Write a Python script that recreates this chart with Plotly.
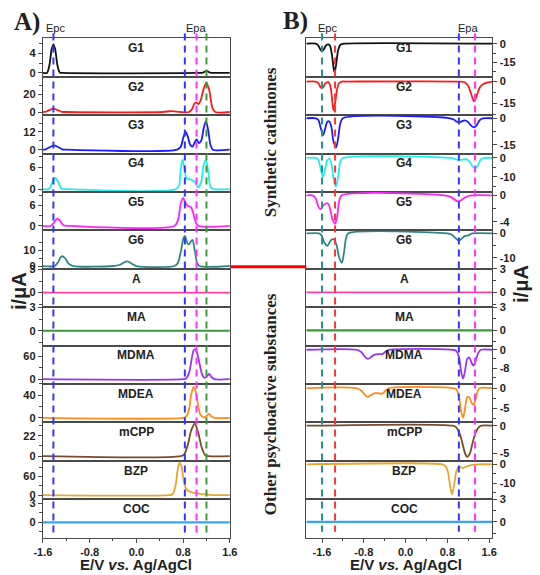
import plotly.graph_objects as go

W, H = 540, 575
NAMES = ["G1", "G2", "G3", "G4", "G5", "G6", "A", "MA", "MDMA", "MDEA", "mCPP", "BZP", "COC"]
COLORS = ["#111111", "#ff1a1a", "#1a1aff", "#22eeee", "#ff22ff", "#2f8585", "#ff3fa0",
          "#3a9a3a", "#9b33f0", "#ff8c1e", "#7a4a2a", "#e8a532", "#38a8f0"]

# ---------------- Panel A (anodic / oxidation, positive currents) ----------------
E_A_G1 = [-1.6, -1.53, -1.49, -1.45, -1.42, -1.39, -1.35, -1.31, -1.25, 1.05, 1.14, 1.2, 1.26, 1.35, 1.6]
I_A_G1 = [0, 0, 1.5, 4.8, 5.8, 4.8, 1.5, 0.1, 0, 0, 0.05, 0.4, 0.05, 0, 0]
E_A_G2 = [-1.6, -1.55, -1.48, -1.42, -1.36, -1.28, -1.2, 0.45, 0.6, 0.75, 0.9, 0.95, 0.99, 1.02, 1.06,
          1.1, 1.15, 1.2, 1.25, 1.3, 1.35, 1.6]
I_A_G2 = [0, 0.3, 2.5, 3.8, 2.5, 0.3, 0, 0, 1, 0, 0, 3, 9, 11, 9, 13, 26, 33, 24, 5, 0, 0]
E_A_G3 = [-1.6, -1.55, -1.47, -1.41, -1.35, -1.27, -1.2, 0.7, 0.76, 0.81, 0.845, 0.88, 0.92, 0.96, 1.0,
          1.03, 1.07, 1.11, 1.15, 1.19, 1.23, 1.27, 1.31, 1.6]
I_A_G3 = [0, 0.2, 2, 2.9, 2, 0.2, 0, 0, 2, 9, 12, 9, 3.5, 2, 5, 7, 4.5, 6, 14, 19.3, 13, 3, 0, 0]
E_A_G4 = [-1.6, -1.5, -1.44, -1.39, -1.34, -1.28, -1.2, 0.68, 0.73, 0.76, 0.79, 0.82, 0.86, 0.9, 0.95,
          1.0, 1.06, 1.11, 1.15, 1.19, 1.23, 1.27, 1.32, 1.6]
I_A_G4 = [0, 0, 1.8, 3.2, 2, 0.1, 0, 0, 1, 5.5, 8.2, 6, 3, 2.8, 2.5, 2, 0.5, 2, 6.5, 8, 5, 0.5, 0, 0]
E_A_G5 = [-1.6, -1.47, -1.41, -1.36, -1.31, -1.25, -1.15, 0.65, 0.71, 0.76, 0.8, 0.84, 0.88, 0.93,
          0.97, 1.02, 1.07, 1.6]
I_A_G5 = [0, 0, 1, 2.1, 1.6, 0.2, 0, 0, 1.5, 6.5, 8.2, 6.8, 5.8, 5.6, 4, 1, 0, 0]
E_A_G6 = [-1.6, -1.4, -1.34, -1.3, -1.27, -1.22, -1.16, -1.08, -0.4, -0.28, -0.2, -0.15, -0.08, 0.0,
          0.65, 0.71, 0.76, 0.8, 0.83, 0.87, 0.9, 0.93, 0.96, 1.0, 1.04, 1.08, 1.6]
I_A_G6 = [0, 0, 2.5, 5.5, 6.3, 5, 1.5, 0, 0, 0.8, 2.6, 3, 1.5, 0, 0, 2, 9, 17, 19.4, 15, 13.9, 15.5,
          16.8, 10, 2, 0, 0]
E_A_A = [-1.6, 1.6]
I_A_A = [0, 0]
E_A_MA = [-1.6, 1.6]
I_A_MA = [0, 0]
E_A_MDMA = [-1.6, 0.8, 0.85, 0.9, 0.95, 0.98, 1.01, 1.04, 1.08, 1.12, 1.16, 1.2, 1.245, 1.29, 1.34, 1.6]
I_A_MDMA = [0, 0, 2, 15, 55, 75, 78, 68, 42, 15, 4, 6, 14, 5, 0, 0]
E_A_MDEA = [-1.6, 0.8, 0.85, 0.9, 0.94, 0.98, 1.02, 1.06, 1.1, 1.15, 1.2, 1.24, 1.28, 1.33, 1.6]
I_A_MDEA = [0, 0, 2, 14, 42, 55, 45, 20, 5, 1, 3, 7.6, 3, 0, 0]
E_A_MCPP = [-1.6, 0.76, 0.82, 0.88, 0.94, 1.0, 1.06, 1.12, 1.18, 1.24, 1.6]
I_A_MCPP = [0, 0, 2, 12, 28, 35, 25, 9, 1, 0, 0]
E_A_BZP = [-1.6, 0.55, 0.62, 0.67, 0.71, 0.74, 0.77, 0.8, 0.84, 0.88, 0.95, 1.04, 1.12, 1.2, 1.3, 1.6]
I_A_BZP = [0, 0, 3, 30, 85, 105, 95, 60, 25, 14, 9, 5.6, 3.5, 1.5, 0, 0]
E_A_COC = [-1.6, 1.6]
I_A_COC = [0, 0]

YRANGE_A = [[-0.8, 7.0], [-3.7, 40], [-2.7, 23.3], [-0.8, 9.8], [-1.3, 9.9], [-1.8, 22.9],
            [-1.9, 3.1], [-1.9, 3.02], [-12.5, 87.5], [-8, 60], [-5, 36.5], [-13, 111], [-2.4, 3.65]]
YTICK_A = [[0, 4], [0, 20], [0, 12], [0, 6], [0, 6], [0, 10], [0, 3], [0, 3], [0, 60], [0, 40],
           [0, 22], [0, 60], [0, 3]]

# ---------------- Panel B (cathodic / reduction, negative currents) ----------------
E_B_G1 = [-1.9, -1.72, -1.67, -1.63, -1.6, -1.57, -1.53, -1.49, -1.45, -1.41, -1.38, -1.36, -1.33,
          -1.29, -1.24, -1.18, 1.66]
I_B_G1 = [0, 0, -1.5, -4.8, -6, -4.8, -1.8, -0.6, -1.5, -9, -19, -23, -17, -5, -0.5, 0, 0]
E_B_G2 = [-1.9, -1.72, -1.66, -1.63, -1.6, -1.57, -1.53, -1.48, -1.44, -1.41, -1.38, -1.35, -1.31,
          -1.27, -1.22, -1.15, 1.0, 1.12, 1.2, 1.26, 1.31, 1.36, 1.42, 1.5, 1.58, 1.66]
I_B_G2 = [0, 0, -1.5, -3.8, -4.5, -3.5, -1, -0.4, -3, -11, -19.6, -15, -5, -1, 0, 0,
          0, -0.3, -3, -9, -13.5, -10, -4, -1.5, -0.5, 0]
E_B_G3 = [-1.9, -1.72, -1.67, -1.62, -1.58, -1.54, -1.5, -1.46, -1.42, -1.38, -1.33, -1.29, -1.25, -1.2,
          0.85, 0.93, 0.98, 1.02, 1.07, 1.13, 1.19, 1.25, 1.31, 1.36, 1.42, 1.48, 1.66]
I_B_G3 = [0, 0, -1, -6, -9.5, -6, -2, -1.8, -5, -13, -16.5, -11, -3, 0,
          0, -0.8, -2, -2.4, -1.8, -1.2, -2, -4, -5.2, -4, -1, 0, 0]
E_B_G4 = [-1.9, -1.72, -1.67, -1.62, -1.58, -1.54, -1.5, -1.46, -1.42, -1.38, -1.335, -1.29, -1.25, -1.2,
          0.85, 0.93, 1.0, 1.06, 1.14, 1.2, 1.25, 1.29, 1.34, 1.39, 1.44, 1.5, 1.66]
I_B_G4 = [0, 0, -1, -6.5, -10, -6, -1.2, -0.5, -3, -11, -15.3, -10, -2, 0,
          0, -0.3, -1.1, -1, -0.7, -1.2, -3, -4.8, -5.6, -3.8, -0.8, 0, 0]
E_B_G5 = [-1.9, -1.78, -1.72, -1.67, -1.63, -1.58, -1.53, -1.48, -1.44, -1.4, -1.35, -1.31, -1.27, -1.22,
          0.75, 0.85, 0.93, 1.0, 1.05, 1.12, 1.2, 1.28, 1.66]
I_B_G5 = [0, 0, -0.5, -1.7, -2.1, -1.6, -1.2, -1.3, -2.2, -3.6, -4.3, -3.2, -0.8, 0,
          0, -0.2, -0.6, -0.9, -0.8, -0.4, -0.1, 0, 0]
E_B_G6 = [-1.9, -1.66, -1.61, -1.56, -1.5, -1.45, -1.41, -1.37, -1.32, -1.27, -1.22, -1.18, -1.14, -1.1,
          0.8, 0.88, 0.95, 1.02, 1.08, 1.14, 1.2, 1.28, 1.66]
I_B_G6 = [0, 0, -0.8, -3.5, -5.1, -3.5, -2.4, -2.5, -5, -10, -12.1, -8, -2, 0,
          0, -0.4, -1.8, -3, -2, -1, -0.8, 0, 0]
E_B_A = [-1.9, 1.66]
I_B_A = [0, 0]
E_B_MA = [-1.9, 1.66]
I_B_MA = [0, 0]
E_B_MDMA = [-1.9, -0.95, -0.85, -0.78, -0.72, -0.66, -0.6, -0.52, -0.45, -0.38, -0.3,
            0.9, 0.97, 1.02, 1.06, 1.1, 1.14, 1.18, 1.22, 1.26, 1.3, 1.34, 1.39, 1.44, 1.66]
I_B_MDMA = [0, 0, -1, -3, -4, -3.2, -2.2, -1.9, -1.9, -0.8, 0,
            0, -0.5, -3, -9, -12.6, -9, -4, -3.3, -5.5, -6.9, -5, -1.5, 0, 0]
E_B_MDEA = [-1.9, -0.95, -0.85, -0.78, -0.73, -0.67, -0.6, -0.52, -0.45, -0.38, -0.3,
            0.9, 0.97, 1.02, 1.06, 1.1, 1.14, 1.18, 1.22, 1.26, 1.3, 1.34, 1.38, 1.42, 1.66]
I_B_MDEA = [0, 0, -0.6, -1.7, -2.2, -1.8, -1.3, -1.3, -1.4, -0.6, 0,
            0, -0.3, -2, -5.5, -7.4, -5, -2.2, -2.3, -3.6, -4.2, -2.8, -0.8, 0, 0]
E_B_MCPP = [-1.9, 0.9, 0.97, 1.03, 1.09, 1.14, 1.18, 1.23, 1.28, 1.34, 1.4, 1.45, 1.66]
I_B_MCPP = [0, 0, -0.3, -1.3, -3.2, -5, -5.6, -5, -3.2, -1.3, -0.3, 0, 0]
E_B_BZP = [-1.9, 0.7, 0.76, 0.81, 0.85, 0.89, 0.93, 0.97, 1.01, 1.05, 1.1, 1.16, 1.24, 1.32, 1.4, 1.66]
I_B_BZP = [0, 0, -0.8, -4, -11, -16, -11, -4, -1.7, -1.6, -2, -1.3, -0.6, -0.2, 0, 0]
E_B_COC = [-1.9, 1.66]
I_B_COC = [0, 0]

YRANGE_B = [[-26.6, 4.2], [-23, 3.2], [-20, 1.7], [-18.2, 2.3], [-5.3, 0.5], [-14.6, 1.25],
            [-1.9, 3.02], [-2.0, 3.02], [-14.9, 1.8], [-8.5, 1.0], [-6.3, 0.6], [-18.6, 1.9], [-2.1, 3.02]]
YTICK_B = [[-15, 0], [-15, 0], [-15, 0], [-10, 0], [-4, 0], [-10, 0], [0, 3], [0, 3], [-8, 0], [-5, 0],
           [-5, 0], [-10, 0], [0, 3]]

XTICKS = [-1.6, -0.8, 0.0, 0.8, 1.6]
XTICK_TEXT = ["-1.6", "-0.8", "0.0", "0.8", "1.6"]
XMINOR = [-1.2, -0.4, 0.4, 1.2]

EPC_A = [-1.42]
EPA_A = [0.83, 1.03, 1.2]
EPC_B = [-1.6, -1.35]
EPA_B = [1.02, 1.33]

SERIES_A = [(E_A_G1, I_A_G1), (E_A_G2, I_A_G2), (E_A_G3, I_A_G3), (E_A_G4, I_A_G4), (E_A_G5, I_A_G5),
            (E_A_G6, I_A_G6), (E_A_A, I_A_A), (E_A_MA, I_A_MA), (E_A_MDMA, I_A_MDMA),
            (E_A_MDEA, I_A_MDEA), (E_A_MCPP, I_A_MCPP), (E_A_BZP, I_A_BZP), (E_A_COC, I_A_COC)]
SERIES_B = [(E_B_G1, I_B_G1), (E_B_G2, I_B_G2), (E_B_G3, I_B_G3), (E_B_G4, I_B_G4), (E_B_G5, I_B_G5),
            (E_B_G6, I_B_G6), (E_B_A, I_B_A), (E_B_MA, I_B_MA), (E_B_MDMA, I_B_MDMA),
            (E_B_MDEA, I_B_MDEA), (E_B_MCPP, I_B_MCPP), (E_B_BZP, I_B_BZP), (E_B_COC, I_B_COC)]

# ---------------- layout geometry (pixels) ----------------
TOP, ROW_H = 33, 39
A_X0, A_X1 = 35, 228
B_X0, B_X1 = 307, 499


def px(x):
    return x / W


def py(y):
    return 1 - y / H


fig = go.Figure()
layout = dict(width=W, height=H, autosize=False, margin=dict(l=0, r=0, t=0, b=0),
              paper_bgcolor="white", plot_bgcolor="white", showlegend=False)
annotations = []
shapes = []
TICKFONT = dict(family="Liberation Sans, Arial", size=11, color="#222222", weight="bold")
LINEC = "#4a4a4a"

for panel, (series, yranges, yticks, x0, x1, side, xr) in enumerate([
        (SERIES_A, YRANGE_A, YTICK_A, A_X0, A_X1, "left", [-1.6, 1.6]),
        (SERIES_B, YRANGE_B, YTICK_B, B_X0, B_X1, "right", [-1.9, 1.66])]):
    for k in range(13):
        n = panel * 13 + k + 1
        xs, ys = series[k]
        fig.add_trace(go.Scatter(x=xs, y=ys, mode="lines", xaxis=f"x{n}", yaxis=f"y{n}",
                                 line=dict(color=COLORS[k], width=1.8 if k not in (7, 12) else 2.2,
                                           shape="spline", smoothing=0.8),
                                 hoverinfo="skip"))
        top = TOP + k * ROW_H
        bot = top + ROW_H
        last = (k == 12)
        xa = dict(domain=[px(x0), px(x1)], range=xr, anchor=f"y{n}", showgrid=False, zeroline=False,
                  showline=True, mirror=True, linecolor=LINEC, linewidth=1.3,
                  showticklabels=last, ticks="outside" if last else "",
                  tickvals=XTICKS, ticktext=XTICK_TEXT, ticklen=4, tickwidth=1.2, tickcolor=LINEC,
                  tickfont=dict(family="Liberation Sans, Arial", size=11, color="#222222", weight="bold"))
        if last:
            xa["minor"] = dict(tickvals=XMINOR, ticks="outside", ticklen=2.5, tickcolor=LINEC, tickwidth=1)
        layout[f"xaxis{n}"] = xa
        yr = yranges[k]
        yt = yticks[k]
        lo, hi = yt
        step = (hi - lo) / 2
        minor = []
        v = lo - step
        while v <= hi + step + 1e-9:
            if yr[0] <= v <= yr[1] and v not in (lo, hi):
                minor.append(v)
            v += step
        layout[f"yaxis{n}"] = dict(domain=[py(bot), py(top)], range=yr, anchor=f"x{n}", side=side,
                                   showgrid=False, zeroline=False, showline=True, mirror=True,
                                   linecolor=LINEC, linewidth=1.3, ticks="outside", ticklen=4,
                                   tickwidth=1.2, tickcolor=LINEC, tickvals=yt,
                                   ticktext=[str(t) for t in yt], tickfont=TICKFONT,
                                   minor=dict(tickvals=minor, ticks="outside", ticklen=2.5,
                                              tickcolor=LINEC, tickwidth=1))
        annotations.append(dict(text=f"<b>{NAMES[k]}</b>", x=px((x0 + x1) / 2 + (0 if panel == 0 else 5)),
                                y=py(top + 10), xref="paper", yref="paper", showarrow=False,
                                font=dict(family="Liberation Sans, Arial", size=12, color="#222222"),
                                xanchor="center", yanchor="middle"))

# dashed vertical lines (potentials) in data x of the bottom axis of each panel
for xv, col in zip(EPC_A + EPA_A, ["#3535ff", "#3535ff", "#ff33ff", "#3c9a3c"]):
    shapes.append(dict(type="line", xref="x13", yref="paper", x0=xv, x1=xv, y0=py(28), y1=py(535),
                       line=dict(color=col, width=2, dash="7px,5px"), layer="above"))
for xv, col in zip(EPC_B + EPA_B, ["#2f8f8f", "#ff3333", "#3535ff", "#ff33ff"]):
    shapes.append(dict(type="line", xref="x26", yref="paper", x0=xv, x1=xv, y0=py(28), y1=py(534),
                       line=dict(color=col, width=2, dash="7px,5px"), layer="above"))

# red connector line
shapes.append(dict(type="line", xref="paper", yref="paper", x0=px(229), x1=px(307), y0=py(265), y1=py(265),
                   line=dict(color="#ff0000", width=3)))


def txt(s, x, y, size, family="Liberation Sans, Arial", angle=0, color="#222222"):
    annotations.append(dict(text=s, x=px(x), y=py(y), xref="paper", yref="paper", showarrow=False,
                            font=dict(family=family, size=size, color=color), textangle=angle,
                            xanchor="center", yanchor="middle"))


txt("Epc", 48, 22, 11)
txt("Epa", 193, 22, 11)
txt("Epc", 329, 22, 11)
txt("Epa", 474, 22, 11)
txt("<b>A)</b>", 19, 16, 25, family="Liberation Serif, Times New Roman")
txt("<b>B)</b>", 296, 15, 25, family="Liberation Serif, Times New Roman")
txt("<b>i/μA</b>", 11, 290, 20, angle=-90)
txt("<b>i/μA</b>", 528, 282, 20, angle=-90)
txt("<b>E/V <i>vs.</i> Ag/AgCl</b>", 131, 567, 15)
txt("<b>E/V <i>vs.</i> Ag/AgCl</b>", 410, 567, 15)
txt("<b>Synthetic cathinones</b>", 270, 139, 17, family="Liberation Serif, Times New Roman", angle=-90)
txt("<b>Other psychoactive substances</b>", 270, 405, 17, family="Liberation Serif, Times New Roman", angle=-90)

layout["annotations"] = annotations
layout["shapes"] = shapes
fig.update_layout(**layout)
fig.write_html("out.html", config={"displayModeBar": False},
               post_script="document.body.style.margin='0px';document.body.style.overflow='hidden';")
